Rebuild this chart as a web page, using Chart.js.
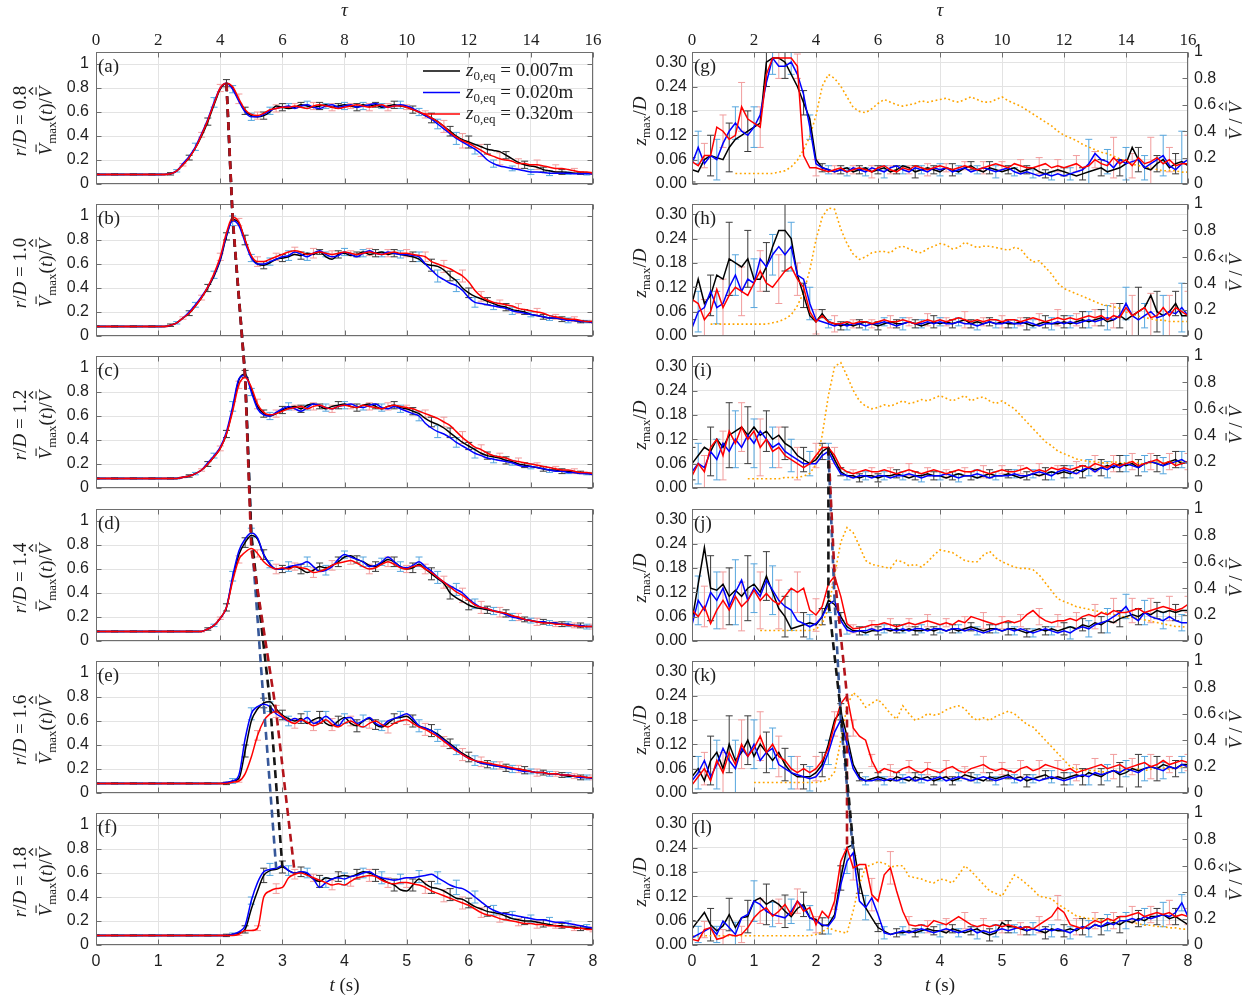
<!DOCTYPE html>
<html>
<head>
<meta charset="utf-8">
<script src="https://cdn.jsdelivr.net/npm/chart.js@4.4.1/dist/chart.umd.min.js"></script>
<style>
  html, body { margin: 0; padding: 0; background: #fff; overflow: hidden; }
  #fig { position: relative; width: 1254px; height: 999px; }
  #fig canvas { position: absolute; }
</style>
</head>
<body>
<div id="fig"></div>
<script>
// sample times (s), shared by every series
const tGrid = [0,.1,.2,.3,.4,.5,.6,.7,.8,.9,1,1.1,1.2,1.3,1.4,1.5,1.6,1.7,1.8,1.9,
  2,2.1,2.2,2.3,2.4,2.5,2.6,2.7,2.8,2.9,3,3.1,3.2,3.3,3.4,3.5,3.6,3.7,3.8,3.9,
  4,4.1,4.2,4.3,4.4,4.5,4.6,4.7,4.8,4.9,5,5.1,5.2,5.3,5.4,5.5,5.6,5.7,5.8,5.9,
  6,6.1,6.2,6.3,6.4,6.5,6.6,6.7,6.8,6.9,7,7.1,7.2,7.3,7.4,7.5,7.6,7.7,7.8,7.9,8];

const tTicks = [0,1,2,3,4,5,6,7,8];
const tauTicks = [0,2,4,6,8,10,12,14,16];
const vmaxTicks = [0,.2,.4,.6,.8,1];
const zTicks = [0,.06,.12,.18,.24,.30];
const vRatioTicks = [0,.2,.4,.6,.8,1];

const rdLabels = ['0.8','1.0','1.2','1.4','1.6','1.8'];
const leftTags = ['a','b','c','d','e','f'];
const rightTags = ['g','h','i','j','k','l'];
const roughness = ['0.007m','0.020m','0.320m'];

// ---- left column: normalised peak velocity ----
const aBlack = [.08,.08,.08,.08,.08,.08,.08,.08,.08,.08,
  .08,.08,.085,.11,.16,.22,.30,.40,.52,.66,
  .79,.84,.80,.70,.61,.57,.56,.57,.60,.65,
  .64,.63,.64,.66,.65,.64,.65,.66,.64,.65,
  .66,.65,.64,.66,.65,.66,.64,.65,.66,.65,
  .64,.62,.60,.57,.55,.52,.48,.44,.40,.37,
  .35,.33,.31,.29,.28,.27,.24,.21,.18,.16,
  .15,.14,.12,.11,.10,.10,.095,.09,.09,.09,.085];
const aBlue = [.08,.08,.08,.08,.08,.08,.08,.08,.08,.08,
  .08,.08,.085,.11,.17,.23,.31,.42,.54,.68,
  .80,.84,.79,.69,.60,.56,.56,.58,.61,.63,
  .64,.65,.63,.65,.66,.64,.63,.65,.66,.64,
  .65,.66,.64,.65,.66,.67,.65,.64,.65,.66,
  .65,.63,.60,.57,.54,.50,.46,.42,.38,.35,
  .32,.29,.25,.20,.17,.15,.14,.13,.12,.11,
  .10,.10,.095,.09,.09,.09,.09,.085,.085,.085,.085];
const aRed = [.08,.08,.08,.08,.08,.08,.08,.08,.08,.08,
  .08,.08,.085,.11,.16,.22,.30,.41,.53,.67,
  .80,.84,.81,.71,.62,.58,.57,.59,.62,.63,
  .64,.64,.65,.64,.63,.65,.66,.65,.64,.63,
  .64,.65,.66,.65,.64,.65,.66,.64,.65,.65,
  .64,.62,.60,.58,.55,.52,.48,.43,.39,.36,
  .34,.31,.28,.25,.23,.21,.20,.19,.17,.17,
  .16,.16,.15,.14,.13,.13,.12,.11,.10,.10,.09];

const bBlack = [.08,.08,.08,.08,.08,.08,.08,.08,.08,.08,
  .08,.08,.09,.11,.15,.19,.25,.32,.40,.50,
  .63,.83,.97,.94,.80,.66,.60,.59,.61,.64,
  .65,.66,.68,.67,.69,.68,.70,.66,.64,.68,
  .69,.67,.68,.70,.68,.69,.70,.68,.69,.68,
  .67,.66,.64,.60,.59,.58,.55,.50,.46,.40,
  .36,.33,.31,.29,.27,.25,.24,.22,.21,.20,
  .18,.17,.16,.15,.15,.14,.14,.13,.12,.12,.11];
const bBlue = [.08,.08,.08,.08,.08,.08,.08,.08,.08,.08,
  .08,.08,.09,.11,.15,.20,.26,.33,.41,.51,
  .64,.84,.96,.92,.78,.65,.60,.60,.62,.64,
  .66,.67,.70,.68,.66,.69,.71,.68,.66,.67,
  .70,.68,.66,.69,.71,.69,.68,.70,.69,.68,
  .68,.67,.66,.60,.55,.50,.47,.44,.42,.38,
  .32,.28,.27,.26,.25,.24,.23,.21,.20,.19,
  .18,.17,.16,.15,.15,.14,.13,.13,.12,.12,.11];
const bRed = [.08,.08,.08,.08,.08,.08,.08,.08,.08,.08,
  .08,.08,.09,.11,.15,.19,.25,.32,.41,.52,
  .66,.86,.99,.95,.80,.67,.62,.62,.64,.66,
  .68,.70,.71,.70,.68,.69,.70,.69,.68,.69,
  .70,.69,.68,.69,.70,.69,.68,.69,.70,.69,
  .69,.68,.67,.66,.62,.60,.58,.56,.53,.50,
  .45,.38,.33,.30,.28,.27,.26,.25,.23,.22,
  .21,.20,.19,.17,.16,.15,.14,.14,.13,.12,.12];

const cBlack = [.08,.08,.08,.08,.08,.08,.08,.08,.08,.08,
  .08,.08,.08,.08,.09,.10,.12,.15,.20,.26,
  .33,.45,.66,.90,.95,.82,.68,.62,.60,.62,
  .65,.67,.68,.66,.69,.70,.68,.66,.68,.69,
  .70,.68,.67,.69,.70,.68,.66,.68,.69,.67,
  .66,.64,.62,.58,.55,.53,.50,.46,.42,.38,
  .35,.32,.29,.27,.26,.25,.23,.22,.20,.19,
  .18,.17,.16,.15,.15,.14,.14,.13,.13,.12,.12];
const cBlue = [.08,.08,.08,.08,.08,.08,.08,.08,.08,.08,
  .08,.08,.08,.08,.09,.10,.12,.15,.21,.27,
  .34,.47,.68,.91,.94,.80,.66,.61,.60,.63,
  .66,.68,.66,.64,.67,.70,.69,.67,.66,.68,
  .69,.70,.68,.67,.69,.70,.67,.66,.68,.66,
  .64,.62,.60,.54,.50,.47,.45,.42,.38,.35,
  .32,.29,.27,.25,.24,.23,.22,.21,.19,.18,
  .18,.17,.16,.15,.14,.14,.13,.13,.12,.12,.11];
const cRed = [.08,.08,.08,.08,.08,.08,.08,.08,.08,.08,
  .08,.08,.08,.08,.09,.10,.12,.15,.20,.26,
  .33,.45,.64,.86,.92,.84,.70,.63,.61,.62,
  .64,.66,.67,.68,.66,.68,.69,.67,.66,.68,
  .69,.68,.67,.69,.68,.67,.66,.68,.69,.68,
  .67,.66,.64,.62,.60,.58,.55,.52,.47,.42,
  .38,.34,.32,.29,.27,.26,.25,.23,.22,.21,
  .20,.19,.18,.17,.16,.15,.15,.14,.13,.13,.12];

const dBlack = [.08,.08,.08,.08,.08,.08,.08,.08,.08,.08,
  .08,.08,.08,.08,.08,.08,.08,.08,.10,.13,
  .19,.28,.52,.72,.82,.88,.85,.72,.64,.60,
  .60,.61,.62,.60,.57,.59,.62,.61,.63,.66,
  .70,.71,.68,.66,.63,.62,.65,.68,.66,.62,
  .60,.61,.64,.60,.56,.52,.48,.40,.36,.33,
  .30,.28,.27,.26,.25,.24,.23,.21,.19,.18,
  .17,.16,.16,.15,.15,.14,.14,.13,.13,.12,.12];
const dBlue = [.08,.08,.08,.08,.08,.08,.08,.08,.08,.08,
  .08,.08,.08,.08,.08,.08,.08,.08,.10,.13,
  .19,.28,.54,.75,.85,.90,.86,.72,.64,.60,
  .60,.62,.63,.64,.66,.62,.58,.59,.62,.68,
  .72,.70,.68,.66,.62,.63,.66,.70,.66,.62,
  .61,.63,.66,.62,.58,.53,.49,.46,.43,.40,
  .35,.31,.28,.27,.25,.24,.22,.20,.19,.18,
  .17,.16,.16,.15,.15,.14,.14,.13,.13,.12,.12];
const dRed = [.08,.08,.08,.08,.08,.08,.08,.08,.08,.08,
  .08,.08,.08,.08,.08,.08,.08,.08,.10,.13,
  .19,.28,.50,.68,.74,.77,.73,.66,.62,.60,
  .61,.60,.62,.61,.60,.57,.58,.60,.63,.65,
  .66,.67,.65,.62,.60,.61,.64,.66,.64,.61,
  .60,.62,.63,.60,.57,.53,.49,.45,.41,.38,
  .34,.30,.28,.27,.25,.24,.23,.21,.20,.18,
  .17,.16,.15,.15,.14,.14,.13,.13,.12,.12,.12];

const eBlack = [.08,.08,.08,.08,.08,.08,.08,.08,.08,.08,
  .08,.08,.08,.08,.08,.08,.08,.08,.08,.08,
  .08,.08,.10,.12,.35,.60,.70,.75,.76,.70,
  .65,.62,.60,.62,.58,.61,.63,.58,.56,.60,
  .63,.58,.56,.60,.62,.57,.55,.58,.62,.63,
  .64,.60,.56,.54,.52,.49,.45,.41,.37,.33,
  .30,.27,.25,.24,.23,.22,.21,.20,.20,.19,
  .18,.17,.17,.16,.16,.15,.14,.14,.13,.13,.12];
const eBlue = [.08,.08,.08,.08,.08,.08,.08,.08,.08,.08,
  .08,.08,.08,.08,.08,.08,.08,.08,.08,.08,
  .08,.09,.10,.15,.45,.66,.72,.74,.72,.66,
  .63,.60,.62,.60,.63,.58,.60,.64,.60,.56,
  .62,.63,.58,.60,.63,.58,.56,.60,.62,.64,
  .66,.62,.56,.54,.52,.48,.44,.40,.36,.32,
  .29,.27,.25,.24,.23,.22,.21,.20,.19,.18,
  .18,.17,.17,.16,.16,.15,.15,.14,.13,.13,.12];
const eRed = [.08,.08,.08,.08,.08,.08,.08,.08,.08,.08,
  .08,.08,.08,.08,.08,.08,.08,.08,.08,.08,
  .08,.08,.09,.10,.16,.30,.48,.60,.66,.68,
  .64,.60,.58,.61,.59,.56,.58,.61,.57,.55,
  .58,.60,.57,.55,.58,.60,.57,.55,.58,.60,
  .61,.58,.55,.53,.50,.47,.43,.39,.35,.32,
  .29,.27,.26,.25,.24,.23,.22,.21,.20,.19,
  .18,.17,.17,.16,.16,.15,.15,.14,.14,.13,.13];

const fBlack = [.08,.08,.08,.08,.08,.08,.08,.08,.08,.08,
  .08,.08,.08,.08,.08,.08,.08,.08,.08,.08,
  .08,.08,.09,.10,.13,.30,.45,.58,.62,.63,
  .65,.62,.60,.61,.59,.55,.53,.56,.55,.57,
  .58,.57,.59,.61,.60,.58,.55,.52,.50,.46,
  .45,.50,.55,.51,.48,.47,.45,.42,.39,.38,
  .35,.32,.30,.28,.27,.26,.24,.22,.21,.20,
  .20,.19,.18,.17,.16,.16,.15,.15,.14,.14,.13];
const fBlue = [.08,.08,.08,.08,.08,.08,.08,.08,.08,.08,
  .08,.08,.08,.08,.08,.08,.08,.08,.08,.08,
  .08,.08,.09,.11,.16,.37,.52,.61,.63,.64,
  .66,.62,.60,.61,.60,.55,.48,.52,.55,.56,
  .55,.57,.58,.60,.61,.58,.56,.55,.54,.55,
  .56,.56,.57,.58,.59,.56,.53,.50,.48,.47,
  .44,.40,.36,.32,.29,.27,.26,.25,.24,.23,
  .22,.21,.21,.20,.19,.19,.18,.17,.16,.15,.14];
const fRed = [.08,.08,.08,.08,.08,.08,.08,.08,.08,.08,
  .08,.08,.08,.08,.08,.08,.08,.08,.08,.08,
  .08,.08,.08,.09,.12,.12,.14,.40,.45,.47,
  .48,.56,.59,.60,.58,.56,.54,.52,.50,.51,
  .50,.53,.56,.57,.58,.57,.54,.52,.51,.52,
  .52,.51,.50,.48,.45,.43,.41,.39,.37,.35,
  .33,.30,.27,.25,.24,.22,.21,.20,.19,.18,
  .18,.17,.17,.16,.16,.15,.15,.14,.14,.13,.13];

// error half-widths, one bar every third sample (black from 0 s, blue from 0.1 s, red from 0.2 s)
const aErrBlack = [.005,.005,.005,.005,.01,.02,.03,.03,.03,.03,.03,.02,.03,.02,.03,.02,.03,.03,.04,.04,.05,.04,.03,.03,.02,.02,.01];
const aErrBlue  = [.005,.005,.005,.005,.01,.03,.04,.03,.03,.03,.02,.03,.02,.03,.03,.02,.03,.03,.04,.05,.04,.03,.02,.02,.02,.01,.01];
const aErrRed   = [.005,.005,.005,.005,.01,.02,.03,.04,.03,.03,.02,.03,.03,.02,.03,.03,.02,.03,.05,.06,.05,.05,.04,.04,.03,.02,.01];
const bErrBlack = [.005,.005,.005,.005,.01,.02,.03,.03,.04,.03,.03,.03,.02,.03,.02,.03,.03,.04,.05,.04,.04,.03,.03,.02,.02,.02,.01];
const bErrBlue  = [.005,.005,.005,.005,.01,.02,.03,.04,.03,.03,.04,.03,.02,.03,.03,.02,.03,.04,.05,.05,.04,.03,.03,.02,.02,.02,.01];
const bErrRed   = [.005,.005,.005,.005,.01,.02,.03,.03,.04,.03,.03,.04,.03,.02,.03,.03,.03,.04,.05,.05,.04,.03,.04,.03,.02,.02,.01];
const cErrBlack = [.005,.005,.005,.005,.005,.01,.02,.03,.03,.03,.03,.03,.02,.03,.03,.02,.03,.03,.04,.04,.03,.03,.03,.02,.02,.02,.01];
const cErrBlue  = [.005,.005,.005,.005,.005,.01,.02,.04,.03,.03,.03,.02,.03,.03,.02,.03,.03,.04,.05,.04,.04,.03,.02,.02,.02,.01,.01];
const cErrRed   = [.005,.005,.005,.005,.005,.01,.02,.03,.04,.03,.02,.03,.03,.02,.03,.03,.02,.03,.04,.05,.04,.03,.03,.02,.02,.02,.01];
const dErrBlack = [.005,.005,.005,.005,.005,.005,.01,.03,.04,.04,.03,.04,.03,.04,.03,.04,.04,.04,.05,.05,.04,.03,.03,.02,.02,.02,.02];
const dErrBlue  = [.005,.005,.005,.005,.005,.005,.01,.04,.04,.03,.04,.04,.04,.03,.04,.03,.04,.04,.05,.05,.04,.03,.03,.02,.02,.02,.02];
const dErrRed   = [.005,.005,.005,.005,.005,.005,.01,.03,.03,.04,.03,.04,.04,.03,.04,.04,.03,.04,.05,.06,.05,.04,.03,.03,.02,.02,.02];
const eErrBlack = [.005,.005,.005,.005,.005,.005,.005,.01,.05,.04,.04,.04,.05,.04,.05,.04,.04,.05,.05,.04,.04,.03,.03,.03,.02,.02,.02];
const eErrBlue  = [.005,.005,.005,.005,.005,.005,.005,.02,.05,.04,.04,.05,.04,.04,.05,.04,.04,.05,.05,.04,.04,.03,.03,.02,.02,.02,.02];
const eErrRed   = [.005,.005,.005,.005,.005,.005,.005,.01,.04,.05,.04,.04,.05,.04,.04,.05,.04,.05,.04,.05,.04,.03,.03,.03,.02,.02,.02];
const fErrBlack = [.005,.005,.005,.005,.005,.005,.005,.01,.03,.06,.05,.04,.05,.04,.04,.05,.05,.05,.05,.05,.04,.04,.03,.03,.03,.02,.02];
const fErrBlue  = [.005,.005,.005,.005,.005,.005,.005,.01,.03,.05,.04,.04,.04,.05,.04,.05,.04,.05,.05,.06,.05,.04,.03,.03,.03,.02,.02];
const fErrRed   = [.005,.005,.005,.005,.005,.005,.005,.01,.02,.04,.04,.03,.04,.04,.05,.04,.04,.05,.05,.05,.04,.03,.03,.03,.02,.02,.02];

// ---- right column: height of the velocity maximum and normalised mean velocity ----
const gBlack = [.035,.03,.06,.07,.065,.06,.09,.11,.12,.13,
  .14,.15,.30,.31,.31,.30,.27,.24,.20,.16,
  .06,.04,.035,.03,.035,.04,.03,.035,.04,.03,
  .035,.04,.03,.035,.045,.04,.03,.035,.04,.035,
  .03,.04,.035,.03,.04,.045,.035,.03,.04,.035,
  .03,.035,.04,.03,.035,.04,.03,.025,.03,.035,
  .03,.025,.02,.025,.03,.035,.04,.03,.035,.04,
  .05,.09,.06,.04,.035,.05,.06,.04,.05,.055,.045];
const gBlue = [.05,.09,.05,.07,.06,.10,.13,.15,.13,.12,
  .14,.17,.25,.31,.29,.29,.30,.27,.22,.14,
  .05,.04,.035,.03,.035,.03,.04,.035,.03,.04,
  .035,.03,.04,.045,.035,.03,.04,.035,.03,.04,
  .035,.04,.03,.035,.04,.03,.035,.04,.035,.03,
  .035,.04,.03,.025,.03,.025,.02,.025,.02,.025,
  .02,.025,.03,.035,.05,.075,.06,.055,.04,.06,
  .05,.055,.06,.04,.05,.06,.07,.045,.035,.05,.06];
const gRed = [.055,.045,.07,.07,.14,.13,.11,.12,.19,.16,
  .15,.14,.27,.31,.31,.31,.31,.29,.07,.04,
  .04,.035,.03,.035,.04,.03,.035,.04,.035,.03,
  .04,.045,.035,.03,.04,.035,.045,.04,.035,.04,
  .045,.04,.035,.04,.045,.04,.035,.04,.045,.05,
  .045,.04,.05,.045,.04,.04,.045,.05,.04,.045,
  .04,.045,.05,.04,.045,.06,.05,.045,.065,.05,
  .06,.045,.065,.05,.055,.065,.05,.06,.045,.05,.05];
const gMean = [null,null,null,null,null,null,null,.08,.08,.08,
  .08,.08,.08,.08,.09,.10,.13,.18,.26,.36,
  .52,.74,.83,.80,.74,.66,.58,.55,.54,.57,
  .61,.64,.62,.60,.59,.60,.61,.63,.62,.63,
  .64,.65,.63,.62,.64,.66,.64,.62,.62,.64,
  .66,.63,.61,.59,.56,.53,.50,.47,.44,.40,
  .37,.35,.33,.30,.28,.26,.24,.23,.21,.19,
  .17,.15,.14,.13,.12,.11,.10,.10,.10,.09,.09];

const hBlack = [.08,.14,.08,.10,.15,.14,.19,.18,.17,.19,
  .14,.14,.17,.22,.26,.26,.24,.15,.10,.05,
  .035,.055,.035,.03,.025,.03,.025,.03,.035,.03,
  .025,.03,.035,.03,.03,.035,.03,.025,.03,.035,
  .03,.035,.03,.035,.04,.03,.035,.03,.035,.03,
  .035,.03,.03,.035,.03,.025,.03,.035,.03,.03,
  .035,.03,.035,.04,.035,.04,.045,.035,.04,.05,
  .04,.05,.06,.07,.10,.06,.05,.06,.08,.05,.05];
const hBlue = [.02,.06,.07,.11,.07,.08,.12,.15,.11,.14,
  .13,.19,.17,.20,.22,.20,.22,.15,.14,.08,
  .04,.035,.03,.025,.03,.025,.03,.03,.025,.03,
  .03,.035,.03,.025,.03,.035,.03,.03,.035,.03,
  .035,.03,.03,.035,.03,.03,.025,.03,.035,.03,
  .03,.035,.03,.03,.035,.03,.025,.03,.03,.035,
  .03,.035,.03,.035,.04,.035,.04,.045,.04,.05,
  .08,.05,.04,.05,.06,.045,.05,.06,.055,.07,.05];
const hRed = [.09,.08,.04,.06,.115,.07,.10,.12,.11,.10,
  .13,.16,.13,.12,.14,.16,.17,.14,.12,.06,
  .035,.05,.035,.03,.03,.035,.03,.035,.035,.03,
  .035,.04,.035,.035,.04,.035,.03,.035,.04,.035,
  .04,.035,.04,.045,.04,.035,.04,.035,.04,.04,
  .035,.04,.04,.035,.04,.045,.04,.035,.04,.045,
  .04,.045,.04,.045,.05,.045,.05,.04,.05,.045,
  .07,.05,.06,.07,.045,.05,.07,.05,.07,.06,.05];
const hMean = [null,null,null,.09,.09,.09,.09,.09,.09,.09,
  .09,.09,.09,.10,.11,.13,.16,.23,.33,.50,
  .73,.90,.97,.96,.81,.70,.62,.58,.60,.63,
  .64,.64,.63,.67,.68,.66,.64,.63,.66,.68,
  .70,.69,.66,.67,.71,.69,.67,.68,.68,.67,
  .66,.65,.67,.66,.60,.56,.57,.52,.47,.40,
  .36,.34,.32,.30,.28,.26,.24,.23,.22,.21,
  .18,.17,.15,.14,.13,.12,.12,.11,.11,.11,.11];

const iBlack = [.06,.08,.10,.09,.12,.10,.13,.14,.15,.13,
  .15,.13,.14,.12,.13,.11,.10,.08,.07,.06,
  .07,.09,.10,.07,.04,.03,.03,.025,.03,.03,
  .025,.03,.03,.035,.03,.025,.03,.03,.035,.03,
  .03,.025,.03,.035,.03,.03,.025,.03,.035,.03,
  .03,.035,.03,.025,.03,.035,.03,.035,.04,.035,
  .04,.035,.045,.04,.05,.045,.05,.055,.05,.06,
  .055,.06,.05,.06,.065,.06,.055,.065,.07,.06,.065];
const iBlue = [.04,.06,.05,.09,.07,.11,.09,.12,.10,.13,
  .11,.14,.12,.10,.11,.09,.08,.07,.06,.06,
  .06,.08,.09,.06,.035,.03,.025,.03,.03,.025,
  .03,.03,.025,.03,.03,.035,.03,.025,.03,.03,
  .03,.035,.03,.025,.03,.03,.035,.03,.025,.03,
  .03,.03,.035,.03,.03,.035,.04,.035,.03,.04,
  .045,.04,.035,.045,.05,.04,.05,.045,.055,.05,
  .06,.055,.05,.06,.065,.06,.055,.06,.065,.07,.06];
const iRed = [.03,.06,.04,.10,.12,.08,.14,.11,.15,.12,
  .14,.10,.12,.09,.10,.08,.07,.06,.05,.06,
  .08,.10,.10,.08,.05,.04,.035,.04,.045,.04,
  .04,.045,.04,.035,.04,.045,.04,.035,.04,.045,
  .04,.035,.04,.045,.04,.04,.045,.04,.035,.04,
  .045,.04,.04,.045,.05,.04,.045,.04,.05,.045,
  .05,.045,.05,.055,.05,.06,.055,.05,.06,.055,
  .06,.065,.055,.06,.065,.07,.06,.065,.055,.06,.065];
const iMean = [null,null,null,null,null,null,null,null,null,.07,
  .07,.07,.07,.07,.07,.08,.08,.08,.09,.11,
  .18,.40,.70,.92,.95,.85,.74,.66,.62,.60,
  .61,.63,.62,.64,.66,.64,.65,.67,.66,.68,
  .70,.68,.66,.68,.70,.66,.68,.69,.66,.64,
  .66,.63,.60,.55,.50,.45,.40,.35,.32,.28,
  .26,.24,.22,.21,.20,.20,.19,.19,.20,.19,
  .19,.20,.19,.18,.19,.20,.19,.20,.19,.20,.20];

const jBlack = [.05,.14,.23,.13,.125,.14,.11,.125,.11,.13,
  .14,.12,.16,.12,.08,.06,.03,.035,.04,.045,
  .04,.06,.10,.09,.06,.035,.025,.025,.02,.025,
  .025,.03,.025,.03,.025,.03,.025,.025,.03,.025,
  .03,.025,.03,.025,.03,.035,.03,.025,.03,.03,
  .025,.03,.03,.025,.02,.025,.03,.025,.03,.025,
  .03,.035,.03,.04,.035,.045,.04,.05,.045,.055,
  .06,.065,.06,.07,.065,.075,.07,.075,.07,.075,.075];
const jBlue = [.04,.10,.076,.12,.10,.13,.085,.12,.15,.10,
  .13,.11,.15,.125,.10,.085,.076,.05,.043,.035,
  .043,.06,.09,.10,.05,.027,.022,.025,.025,.03,
  .025,.03,.03,.025,.03,.025,.03,.03,.025,.03,
  .03,.025,.03,.03,.025,.03,.025,.02,.025,.03,
  .025,.03,.025,.03,.025,.02,.025,.03,.025,.02,
  .025,.02,.03,.035,.03,.04,.045,.05,.06,.07,
  .085,.06,.05,.07,.06,.055,.05,.06,.05,.045,.045];
const jRed = [.076,.06,.085,.043,.076,.10,.076,.11,.085,.10,
  .125,.10,.117,.10,.09,.11,.13,.12,.13,.076,
  .064,.085,.14,.16,.11,.043,.03,.032,.035,.04,
  .04,.045,.04,.035,.04,.045,.04,.045,.05,.045,
  .04,.045,.04,.05,.045,.06,.055,.05,.045,.04,
  .045,.05,.045,.05,.065,.075,.06,.05,.045,.05,
  .05,.055,.05,.06,.065,.06,.07,.065,.075,.07,
  .07,.075,.08,.07,.075,.08,.085,.08,.075,.08,.09];
const jMean = [null,null,null,null,null,null,null,null,null,null,
  null,.08,.08,.08,.08,.08,.08,.08,.08,.08,
  .09,.13,.25,.50,.75,.86,.82,.72,.61,.58,
  .57,.56,.55,.61,.60,.57,.58,.56,.60,.65,
  .69,.68,.67,.64,.61,.60,.60,.65,.68,.63,
  .60,.58,.56,.55,.55,.54,.50,.44,.38,.32,
  .30,.28,.26,.25,.24,.23,.22,.21,.20,.19,
  .18,.18,.17,.16,.15,.14,.13,.12,.11,.11,.10];

const kBlack = [.04,.06,.03,.08,.10,.06,.12,.08,.10,.13,
  .09,.12,.10,.08,.10,.07,.05,.04,.04,.04,
  .05,.07,.12,.18,.20,.14,.07,.04,.03,.035,
  .04,.035,.03,.04,.035,.03,.04,.035,.04,.03,
  .035,.04,.03,.035,.045,.04,.035,.03,.04,.035,
  .04,.045,.035,.04,.03,.035,.04,.045,.035,.04,
  .035,.04,.045,.04,.05,.045,.04,.05,.055,.045,
  .05,.06,.055,.06,.065,.06,.07,.065,.06,.07,.07];
const kBlue = [.03,.05,.08,.04,.07,.11,.08,.06,.11,.09,
  .12,.08,.10,.11,.07,.06,.05,.045,.04,.035,
  .04,.06,.10,.15,.18,.12,.06,.035,.03,.03,
  .035,.03,.035,.03,.035,.04,.03,.035,.03,.035,
  .04,.03,.035,.04,.035,.03,.035,.04,.035,.03,
  .035,.04,.035,.03,.04,.035,.03,.035,.04,.035,
  .03,.035,.04,.045,.04,.05,.045,.05,.055,.05,
  .06,.055,.05,.06,.065,.06,.055,.065,.06,.07,.065];
const kRed = [.02,.04,.06,.03,.08,.05,.10,.07,.12,.09,
  .11,.14,.10,.12,.09,.08,.06,.05,.06,.05,
  .06,.08,.11,.17,.22,.24,.16,.14,.13,.08,
  .05,.06,.055,.05,.06,.065,.055,.05,.06,.055,
  .05,.06,.065,.055,.05,.06,.065,.07,.06,.055,
  .06,.055,.05,.06,.065,.055,.06,.07,.065,.06,
  .055,.06,.05,.055,.06,.065,.07,.06,.065,.07,
  .06,.065,.07,.075,.065,.07,.08,.07,.075,.08,.075];
const kMean = [null,null,null,null,null,null,null,null,null,null,
  .08,.08,.08,.08,.08,.08,.08,.08,.08,.08,
  .08,.09,.10,.16,.40,.66,.76,.72,.65,.68,
  .71,.66,.60,.56,.66,.60,.55,.57,.60,.59,
  .60,.63,.65,.66,.64,.58,.55,.57,.55,.58,
  .60,.62,.60,.56,.52,.50,.45,.40,.35,.30,
  .25,.20,.18,.17,.17,.17,.16,.16,.17,.17,
  .17,.18,.18,.17,.18,.19,.19,.18,.19,.20,.20];

const lBlack = [.04,.06,.08,.05,.035,.047,.075,.043,.067,.07,
  .108,.116,.10,.11,.10,.083,.07,.09,.10,.067,
  .063,.047,.05,.075,.165,.24,.247,.157,.092,.067,
  .043,.034,.026,.03,.03,.035,.03,.035,.04,.035,
  .035,.03,.04,.035,.03,.035,.04,.03,.025,.03,
  .055,.045,.045,.04,.035,.04,.035,.03,.04,.035,
  .035,.04,.035,.045,.04,.05,.045,.05,.055,.05,
  .06,.055,.065,.06,.07,.07,.075,.065,.07,.06,.05];
const lBlue = [.018,.026,.034,.043,.026,.059,.043,.026,.067,.075,
  .108,.10,.083,.075,.071,.067,.083,.108,.092,.067,
  .059,.05,.047,.067,.149,.206,.227,.108,.092,.116,
  .075,.03,.026,.03,.035,.03,.035,.04,.035,.03,
  .035,.04,.035,.03,.035,.04,.03,.035,.03,.035,
  .04,.035,.04,.045,.035,.04,.035,.04,.035,.04,
  .035,.03,.04,.045,.04,.05,.045,.055,.05,.06,
  .06,.065,.06,.07,.065,.07,.075,.07,.08,.104,.07];
const lRed = [.014,.01,.038,.043,.014,.018,.026,.022,.026,.043,
  .067,.083,.092,.071,.083,.10,.075,.108,.083,.092,
  .05,.083,.067,.108,.206,.24,.19,.198,.198,.124,
  .108,.173,.19,.133,.083,.05,.047,.05,.045,.06,
  .055,.05,.06,.07,.06,.05,.045,.05,.045,.05,
  .045,.05,.045,.04,.045,.04,.05,.06,.07,.092,
  .08,.05,.045,.04,.05,.06,.055,.065,.06,.07,
  .07,.075,.08,.07,.075,.08,.075,.08,.07,.075,.07];
const lMean = [.07,.07,.07,.07,.07,.07,.07,.07,.07,.07,
  .07,.07,.07,.07,.07,.07,.07,.07,.07,.07,
  .08,.10,.13,.11,.10,.09,.26,.46,.59,.61,
  .63,.62,.59,.60,.60,.52,.51,.50,.48,.47,
  .50,.49,.47,.53,.60,.56,.51,.46,.41,.39,
  .37,.45,.53,.50,.46,.42,.37,.36,.35,.31,
  .28,.25,.22,.21,.20,.20,.19,.19,.18,.18,
  .18,.17,.16,.15,.15,.14,.14,.13,.13,.12,.12];

const gErrBlack = [.03,.05,.06,.05,.06,.04,.03,.01,.01,.01,.01,.01,.015,.01,.015,.01,.015,.01,.01,.01,.01,.015,.02,.02,.03,.02,.025];
const gErrBlue  = [.04,.05,.04,.05,.04,.03,.03,.01,.01,.01,.015,.01,.01,.015,.01,.01,.015,.01,.01,.01,.015,.06,.03,.04,.03,.05,.08];
const gErrRed   = [.03,.04,.06,.05,.05,.03,.02,.01,.01,.015,.01,.01,.015,.01,.01,.015,.01,.015,.02,.015,.02,.02,.05,.03,.06,.03,.07];
const hErrBlack = [.04,.05,.09,.07,.06,.10,.03,.01,.01,.01,.01,.01,.01,.015,.01,.01,.01,.01,.015,.015,.015,.02,.02,.03,.06,.05,.03];
const hErrBlue  = [.05,.04,.05,.06,.05,.06,.04,.01,.01,.01,.01,.015,.01,.01,.01,.01,.01,.01,.01,.015,.015,.02,.03,.04,.03,.05,.06];
const hErrRed   = [.05,.07,.06,.05,.06,.04,.03,.02,.01,.01,.015,.01,.015,.01,.02,.01,.015,.01,.015,.02,.015,.02,.03,.05,.06,.05,.06];
const iErrBlack = [.04,.06,.08,.07,.05,.04,.03,.02,.01,.01,.01,.01,.01,.01,.01,.01,.01,.01,.01,.015,.015,.015,.02,.02,.02,.02,.02];
const iErrBlue  = [.05,.05,.07,.06,.05,.04,.03,.02,.01,.01,.01,.01,.01,.01,.01,.01,.01,.01,.01,.01,.015,.02,.02,.02,.02,.02,.02];
const iErrRed   = [.04,.06,.06,.07,.05,.04,.03,.02,.01,.01,.01,.015,.01,.01,.01,.015,.01,.01,.015,.01,.015,.02,.02,.02,.02,.02,.02];
const jErrBlack = [.08,.08,.07,.08,.06,.05,.03,.02,.01,.01,.01,.01,.01,.01,.01,.01,.01,.015,.01,.01,.015,.015,.02,.02,.02,.02,.02];
const jErrBlue  = [.06,.07,.08,.06,.06,.05,.03,.02,.01,.01,.01,.01,.01,.01,.01,.01,.01,.01,.01,.01,.015,.02,.03,.03,.03,.02,.02];
const jErrRed   = [.05,.07,.06,.07,.06,.05,.04,.02,.01,.01,.015,.01,.015,.01,.015,.02,.015,.015,.02,.015,.02,.03,.03,.03,.03,.03,.02];
const kErrBlack = [.05,.06,.07,.06,.05,.04,.03,.03,.02,.01,.01,.01,.01,.01,.01,.01,.01,.01,.015,.01,.015,.02,.02,.03,.04,.03,.02];
const kErrBlue  = [.04,.06,.07,.06,.05,.04,.03,.03,.02,.01,.01,.01,.01,.01,.01,.01,.01,.01,.01,.015,.015,.02,.02,.02,.03,.02,.02];
const kErrRed   = [.04,.05,.06,.06,.05,.04,.03,.03,.02,.015,.015,.015,.015,.02,.015,.02,.015,.02,.02,.02,.02,.02,.03,.02,.03,.02,.02];
const lErrBlack = [.02,.04,.04,.04,.05,.04,.03,.02,.03,.03,.01,.01,.01,.01,.01,.01,.015,.015,.01,.015,.015,.02,.02,.02,.02,.02,.02];
const lErrBlue  = [.02,.02,.03,.05,.03,.03,.03,.02,.03,.03,.015,.01,.01,.015,.01,.015,.015,.01,.015,.015,.015,.02,.02,.02,.02,.03,.02];
const lErrRed   = [.02,.02,.02,.03,.03,.03,.02,.02,.03,.04,.04,.02,.015,.015,.02,.015,.015,.015,.02,.03,.02,.02,.02,.02,.02,.03,.02];

// peak positions joined by the dashed tracks (t in s, value)
const leftPeakTBlack = [2.1,2.2,2.4,2.5,2.8,3.0];
const leftPeakVBlack = [.84,.97,.95,.88,.76,.65];
const leftPeakTBlue  = [2.1,2.2,2.4,2.5,2.7,2.9];
const leftPeakVBlue  = [.84,.96,.94,.90,.74,.64];
const leftPeakTRed   = [2.1,2.2,2.4,2.5,2.9,3.2];
const leftPeakVRed   = [.84,.99,.92,.77,.68,.59];
const rightPeakTBlack = [2.2,2.2,2.4,2.6];
const rightPeakVBlack = [.10,.10,.20,.247];
const rightPeakTBlue  = [2.2,2.3,2.4,2.6];
const rightPeakVBlue  = [.09,.10,.18,.227];
const rightPeakTRed   = [2.2,2.3,2.5,2.5];
const rightPeakVRed   = [.10,.16,.24,.24];

// ---- layout ----
const frameTops = [52, 204, 356, 509, 661, 813];
const PLOT_H = 132, TOP_SPACE = 52, BOTTOM_SPACE = 56;
const GRID = '#e3e3e3', FRAME = '#6e6e6e', TXT = '#1e1e1e';
const SANS = '"Liberation Sans", Arial, Helvetica, sans-serif';
const SERIF = '"Liberation Serif", "DejaVu Serif", "Times New Roman", serif';
const LINE_COLORS = ['#000000', '#0000ff', '#ff0000'];
const ERR_COLORS = ['#3a3a3a', '#56a6de', '#f19c9c'];
const DASH_COLORS = ['#151515', '#37589a', '#b3141b'];

const leftSeries = [[aBlack,aBlue,aRed],[bBlack,bBlue,bRed],[cBlack,cBlue,cRed],
  [dBlack,dBlue,dRed],[eBlack,eBlue,eRed],[fBlack,fBlue,fRed]];
const leftErrors = [[aErrBlack,aErrBlue,aErrRed],[bErrBlack,bErrBlue,bErrRed],[cErrBlack,cErrBlue,cErrRed],
  [dErrBlack,dErrBlue,dErrRed],[eErrBlack,eErrBlue,eErrRed],[fErrBlack,fErrBlue,fErrRed]];
const rightSeries = [[gBlack,gBlue,gRed],[hBlack,hBlue,hRed],[iBlack,iBlue,iRed],
  [jBlack,jBlue,jRed],[kBlack,kBlue,kRed],[lBlack,lBlue,lRed]];
const rightMeans = [gMean,hMean,iMean,jMean,kMean,lMean];
const rightErrors = [[gErrBlack,gErrBlue,gErrRed],[hErrBlack,hErrBlue,hErrRed],[iErrBlack,iErrBlue,iErrRed],
  [jErrBlack,jErrBlue,jErrRed],[kErrBlack,kErrBlue,kErrRed],[lErrBlack,lErrBlue,lErrRed]];

const setTicks = list => scale => { scale.ticks = list.map(v => ({ value: v })); };
const toPoints = arr => arr.map((v, i) => ({ x: tGrid[i], y: v }));

// draws a run of text pieces: {t, style:'i'|'r', size, dy, bar, hat}
function richWidth(ctx, parts) {
  let w = 0;
  parts.forEach(p => { ctx.font = (p.style === 'i' ? 'italic ' : '') + p.size + 'px ' + SERIF; w += ctx.measureText(p.t).width; });
  return w;
}
function drawRich(ctx, parts, x, y, align) {
  let cx = align === 'center' ? x - richWidth(ctx, parts) / 2 : x;
  ctx.textBaseline = 'alphabetic';
  ctx.textAlign = 'left';
  parts.forEach(p => {
    ctx.font = (p.style === 'i' ? 'italic ' : '') + p.size + 'px ' + SERIF;
    const w = ctx.measureText(p.t).width;
    ctx.fillText(p.t, cx, y + (p.dy || 0));
    if (p.bar || p.hat) {
      const top = y - p.size * 0.68;
      ctx.save();
      ctx.lineWidth = 1.1;
      ctx.strokeStyle = ctx.fillStyle;
      if (p.bar) {
        ctx.beginPath(); ctx.moveTo(cx + w * 0.3, top - 3); ctx.lineTo(cx + w * 0.95, top - 3); ctx.stroke();
      }
      if (p.hat) {
        const mx = cx + w * 0.62, hy = p.bar ? top - 6 : top - 3;
        ctx.beginPath(); ctx.moveTo(mx - 3.5, hy); ctx.lineTo(mx, hy - 4); ctx.lineTo(mx + 3.5, hy); ctx.stroke();
      }
      ctx.restore();
    }
    cx += w;
  });
}
function drawRotated(ctx, parts, x, y) {
  ctx.save();
  ctx.translate(x, y);
  ctx.rotate(-Math.PI / 2);
  drawRich(ctx, parts, 0, 0, 'center');
  ctx.restore();
}

const errorBars = {
  id: 'errorBars',
  beforeDatasetsDraw(chart) {
    const ctx = chart.ctx, a = chart.chartArea;
    ctx.save();
    ctx.beginPath();
    ctx.rect(a.left, a.top, a.right - a.left, a.bottom - a.top);
    ctx.clip();
    ctx.lineWidth = 1;
    chart.data.datasets.forEach(ds => {
      if (!ds.errors) return;
      const xs = chart.scales.x, ys = chart.scales[ds.yAxisID];
      ctx.strokeStyle = ds.errColor;
      ds.errors.forEach((e, j) => {
        const p = ds.data[ds.errOffset + 3 * j];
        if (!p || p.y == null) return;
        const x = xs.getPixelForValue(p.x);
        const y1 = ys.getPixelForValue(p.y - e), y2 = ys.getPixelForValue(p.y + e);
        ctx.beginPath();
        ctx.moveTo(x, y1); ctx.lineTo(x, y2);
        ctx.moveTo(x - 3.5, y1); ctx.lineTo(x + 3.5, y1);
        ctx.moveTo(x - 3.5, y2); ctx.lineTo(x + 3.5, y2);
        ctx.stroke();
      });
    });
    ctx.restore();
  }
};

const panelDeco = {
  id: 'panelDeco',
  afterDraw(chart, args, o) {
    const ctx = chart.ctx, a = chart.chartArea;
    const L = a.left + 0.5, R = a.right - 0.5, T = a.top + 0.5, B = a.bottom - 0.5;
    ctx.save();
    ctx.strokeStyle = FRAME;
    ctx.lineWidth = 1;
    ctx.beginPath();
    tTicks.forEach(v => {
      const x = Math.round(chart.scales.x.getPixelForValue(v)) + 0.5;
      ctx.moveTo(x, B); ctx.lineTo(x, B - 5);
      ctx.moveTo(x, T); ctx.lineTo(x, T + 5);
    });
    const yl = chart.scales.y;
    (o.right ? zTicks : vmaxTicks).forEach(v => {
      const y = Math.round(yl.getPixelForValue(v)) + 0.5;
      ctx.moveTo(L, y); ctx.lineTo(L + 5, y);
      if (!o.right) { ctx.moveTo(R, y); ctx.lineTo(R - 5, y); }
    });
    if (o.right) {
      vRatioTicks.forEach(v => {
        const y = Math.round(chart.scales.y2.getPixelForValue(v)) + 0.5;
        ctx.moveTo(R, y); ctx.lineTo(R - 5, y);
      });
    }
    ctx.stroke();
    ctx.strokeRect(L, T, R - L, B - T);

    ctx.fillStyle = TXT;
    drawRich(ctx, [{ t: '(' + o.tag + ')', style: 'r', size: 19 }], a.left + 2, a.top + 20);

    const midY = (a.top + a.bottom) / 2 + 3;
    if (!o.right) {
      drawRotated(ctx, [{ t: 'r', style: 'i', size: 19 }, { t: '/', style: 'r', size: 19 },
        { t: 'D', style: 'i', size: 19 }, { t: ' = ' + o.rd, style: 'r', size: 19 }], a.left - 70, midY);
      drawRotated(ctx, [{ t: 'V', style: 'i', size: 19, bar: true }, { t: 'max', style: 'r', size: 13, dy: 4 },
        { t: '(', style: 'r', size: 19 }, { t: 't', style: 'i', size: 19 }, { t: ')/', style: 'r', size: 19 },
        { t: 'V', style: 'i', size: 19, bar: true, hat: true }], a.left - 44, midY);
    } else {
      drawRotated(ctx, [{ t: 'z', style: 'i', size: 19 }, { t: 'max', style: 'r', size: 13, dy: 4 },
        { t: '/', style: 'r', size: 19 }, { t: 'D', style: 'i', size: 19 }], a.left - 46, midY);
      drawRotated(ctx, [{ t: 'V', style: 'i', size: 19, bar: true }, { t: ' / ', style: 'r', size: 19 },
        { t: 'V', style: 'i', size: 19, bar: true, hat: true }], a.right + 54, midY);
    }
    if (o.row === 0) {
      drawRich(ctx, [{ t: 'τ', style: 'i', size: 19 }], (a.left + a.right) / 2, 16, 'center');
    }
    if (o.row === 5) {
      drawRich(ctx, [{ t: 't', style: 'i', size: 19 }, { t: ' (s)', style: 'r', size: 19 }],
        (a.left + a.right) / 2, a.bottom + 46, 'center');
    }
    if (o.legend) {
      roughness.forEach((r, i) => {
        const y = a.top + 19 + i * 21.5;
        ctx.strokeStyle = LINE_COLORS[i];
        ctx.lineWidth = 1.6;
        ctx.beginPath(); ctx.moveTo(a.left + 327, y); ctx.lineTo(a.left + 364, y); ctx.stroke();
        drawRich(ctx, [{ t: 'z', style: 'i', size: 19 }, { t: '0,eq', style: 'r', size: 13, dy: 4 },
          { t: ' = ' + r, style: 'r', size: 19 }], a.left + 370, y + 5);
      });
    }
    ctx.restore();
  }
};

const fig = document.getElementById('fig');
function addCanvas(left, top, w, h) {
  const c = document.createElement('canvas');
  c.width = w; c.height = h;
  c.style.left = left + 'px'; c.style.top = top + 'px';
  c.style.width = w + 'px'; c.style.height = h + 'px';
  fig.appendChild(c);
  return c;
}

function tickFont(family, size) { return { family, size }; }

function makePanel(col, row) {
  const right = col === 1;
  const canvasLeft = right ? 610 : 0;
  const canvasW = right ? 644 : 610;
  const canvasTop = frameTops[row] - TOP_SPACE;
  const canvas = addCanvas(canvasLeft, canvasTop, canvasW, TOP_SPACE + PLOT_H + BOTTOM_SPACE);
  const series = right ? rightSeries[row] : leftSeries[row];
  const errs = right ? rightErrors[row] : leftErrors[row];

  const datasets = [2, 1, 0].map(k => ({
    data: toPoints(series[k]),
    yAxisID: 'y',
    borderColor: LINE_COLORS[k],
    borderWidth: 1.5,
    pointRadius: 0,
    cubicInterpolationMode: right ? 'default' : 'monotone',
    tension: 0,
    errors: errs[k],
    errOffset: k,
    errColor: ERR_COLORS[k]
  }));
  if (right) {
    datasets.push({
      data: toPoints(rightMeans[row]),
      yAxisID: 'y2',
      borderColor: '#ffa500',
      borderWidth: 1.6,
      borderDash: [1.8, 2.6],
      pointRadius: 0,
      spanGaps: false
    });
  }

  const scales = {
    x: {
      type: 'linear', position: 'bottom', min: 0, max: 8,
      afterBuildTicks: setTicks(tTicks),
      afterFit: s => { s.height = BOTTOM_SPACE; },
      grid: { color: GRID, drawTicks: false },
      border: { display: false },
      ticks: { display: row === 5, color: TXT, font: tickFont(SANS, 16), padding: 7, maxRotation: 0, autoSkip: false }
    },
    xTop: {
      type: 'linear', position: 'top', min: 0, max: 16,
      afterBuildTicks: setTicks(tauTicks),
      afterFit: s => { s.height = TOP_SPACE; },
      grid: { display: false, drawTicks: false },
      border: { display: false },
      ticks: { display: row === 0, color: TXT, font: tickFont(SERIF, 17), padding: 1, maxRotation: 0, autoSkip: false }
    },
    y: right ? {
      type: 'linear', position: 'left', min: 0, max: 0.325,
      afterBuildTicks: setTicks(zTicks),
      afterFit: s => { s.width = 82; },
      grid: { color: GRID, drawTicks: false },
      border: { display: false },
      ticks: { color: TXT, font: tickFont(SANS, 16), padding: 5, callback: v => v.toFixed(2) }
    } : {
      type: 'linear', position: 'left', min: 0, max: 1.1,
      afterBuildTicks: setTicks(vmaxTicks),
      afterFit: s => { s.width = 96; },
      grid: { color: GRID, drawTicks: false },
      border: { display: false },
      ticks: { color: TXT, font: tickFont(SANS, 16), padding: 7, callback: v => String(+v.toFixed(1)) }
    }
  };
  if (right) {
    scales.y2 = {
      type: 'linear', position: 'right', min: 0, max: 1,
      afterBuildTicks: setTicks(vRatioTicks),
      afterFit: s => { s.width = 66; },
      grid: { display: false, drawTicks: false },
      border: { display: false },
      ticks: { color: TXT, font: tickFont(SANS, 16), padding: 6, callback: v => String(+v.toFixed(1)) }
    };
  }

  const chart = new Chart(canvas.getContext('2d'), {
    type: 'line',
    data: { datasets },
    options: {
      responsive: false,
      animation: false,
      devicePixelRatio: 1,
      events: [],
      layout: { padding: { left: 0, right: right ? 0 : 17, top: 0, bottom: 0 }, autoPadding: false },
      scales,
      plugins: {
        legend: { display: false },
        tooltip: { enabled: false },
        panelDeco: {
          tag: right ? rightTags[row] : leftTags[row],
          rd: rdLabels[row], row, right,
          legend: !right && row === 0
        }
      }
    },
    plugins: [errorBars, panelDeco]
  });
  return { chart, left: canvasLeft, top: canvasTop };
}

const leftCharts = frameTops.map((_, r) => makePanel(0, r));
const rightCharts = frameTops.map((_, r) => makePanel(1, r));

// dashed tracks of the peak through the stacked panels
function drawTracks() {
  const ov = addCanvas(0, 0, 1254, 999);
  ov.style.zIndex = 5;
  const ctx = ov.getContext('2d');
  const tracks = [
    { charts: leftCharts, t: leftPeakTBlue, v: leftPeakVBlue, c: 1 },
    { charts: leftCharts, t: leftPeakTBlack, v: leftPeakVBlack, c: 0 },
    { charts: leftCharts, t: leftPeakTRed, v: leftPeakVRed, c: 2 },
    { charts: rightCharts.slice(2), t: rightPeakTBlue, v: rightPeakVBlue, c: 1 },
    { charts: rightCharts.slice(2), t: rightPeakTRed, v: rightPeakVRed, c: 2 },
    { charts: rightCharts.slice(2), t: rightPeakTBlack, v: rightPeakVBlack, c: 0 }
  ];
  ctx.lineWidth = 2.6;
  ctx.setLineDash([8, 5]);
  tracks.forEach(tr => {
    ctx.strokeStyle = DASH_COLORS[tr.c];
    ctx.beginPath();
    tr.t.forEach((t, i) => {
      const p = tr.charts[i];
      const x = p.left + p.chart.scales.x.getPixelForValue(t);
      const y = p.top + p.chart.scales.y.getPixelForValue(tr.v[i]);
      if (i === 0) ctx.moveTo(x, y); else ctx.lineTo(x, y);
    });
    ctx.stroke();
  });
}
drawTracks();
</script>
</body>
</html>
